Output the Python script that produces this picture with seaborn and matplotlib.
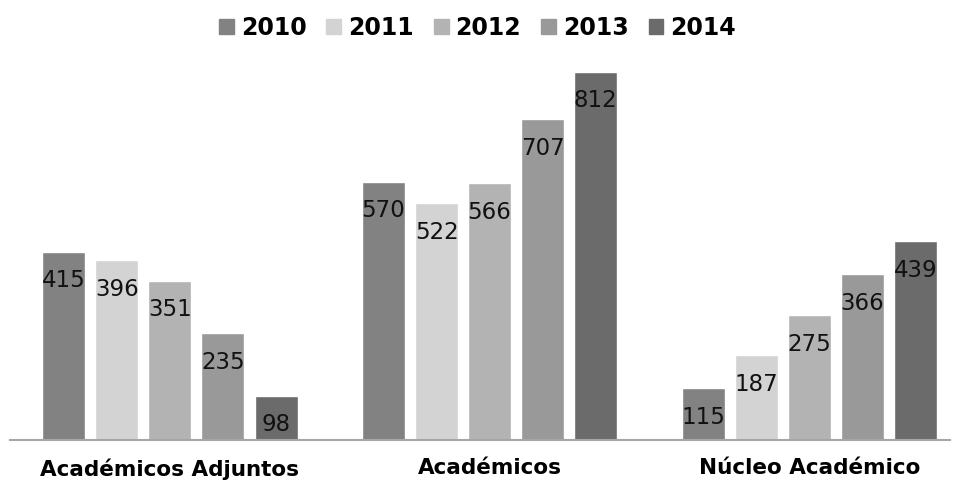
import pandas as pd
import seaborn as sns
from matplotlib import pyplot as plt

# datos
categorias = ["Académicos Adjuntos", "Académicos", "Núcleo Académico"]
anios = ["2010", "2011", "2012", "2013", "2014"]
v2010 = [415, 570, 115]
v2011 = [396, 522, 187]
v2012 = [351, 566, 275]
v2013 = [235, 707, 366]
v2014 = [98, 812, 439]
colores = ["#828282", "#d3d3d3", "#b3b3b3", "#999999", "#6b6b6b"]

series = [v2010, v2011, v2012, v2013, v2014]
filas = []
for anio, vals in zip(anios, series):
    for cat, v in zip(categorias, vals):
        filas.append({"categoria": cat, "anio": anio, "valor": v})
df = pd.DataFrame(filas)

sns.set_style("white")
plt.rcParams['font.family'] = ['DejaVu Sans']
plt.rcParams['text.color'] = 'black'
plt.rcParams['xtick.color'] = 'black'

fig = plt.figure(figsize=(9.57, 4.84), dpi=100)
ax = fig.add_axes([10 / 957, 44 / 484, 940 / 957, 390 / 484])

sns.barplot(data=df, x="categoria", y="valor", hue="anio", order=categorias,
            hue_order=anios, palette=colores, width=0.83, gap=0.19,
            saturation=1, ax=ax, legend=False)

# etiquetas dentro de cada barra
for bar in ax.patches:
    h = bar.get_height()
    if h <= 0:
        continue
    ax.annotate(f"{int(round(h))}", (bar.get_x() + bar.get_width() / 2, h),
                xytext=(0, -21), textcoords="offset points",
                ha="center", va="center", fontsize=16.5, color="#111111")

ax.set_xlim(-0.5, 2.44)
ax.set_ylim(0, 860)
ax.set_xlabel("")
ax.set_ylabel("")
ax.set_yticks([])
ax.tick_params(axis="x", length=0, pad=13)
for lbl in ax.get_xticklabels():
    lbl.set_fontsize(15.5)
    lbl.set_fontweight("bold")
    lbl.set_color("black")
for s in ["top", "left", "right"]:
    ax.spines[s].set_visible(False)
ax.spines["bottom"].set_color("#a6a6a6")
ax.spines["bottom"].set_linewidth(1.5)

handles = [plt.Rectangle((0, 0), 1, 1, color=c) for c in colores]
fig.legend(handles, anios, loc="center", bbox_to_anchor=(0.499, 0.942), ncol=5,
           frameon=False, handlelength=0.62, handleheight=0.62, handletextpad=0.3,
           columnspacing=0.85, prop={"weight": "bold", "size": 17})

fig.savefig("out.png", dpi=100)
